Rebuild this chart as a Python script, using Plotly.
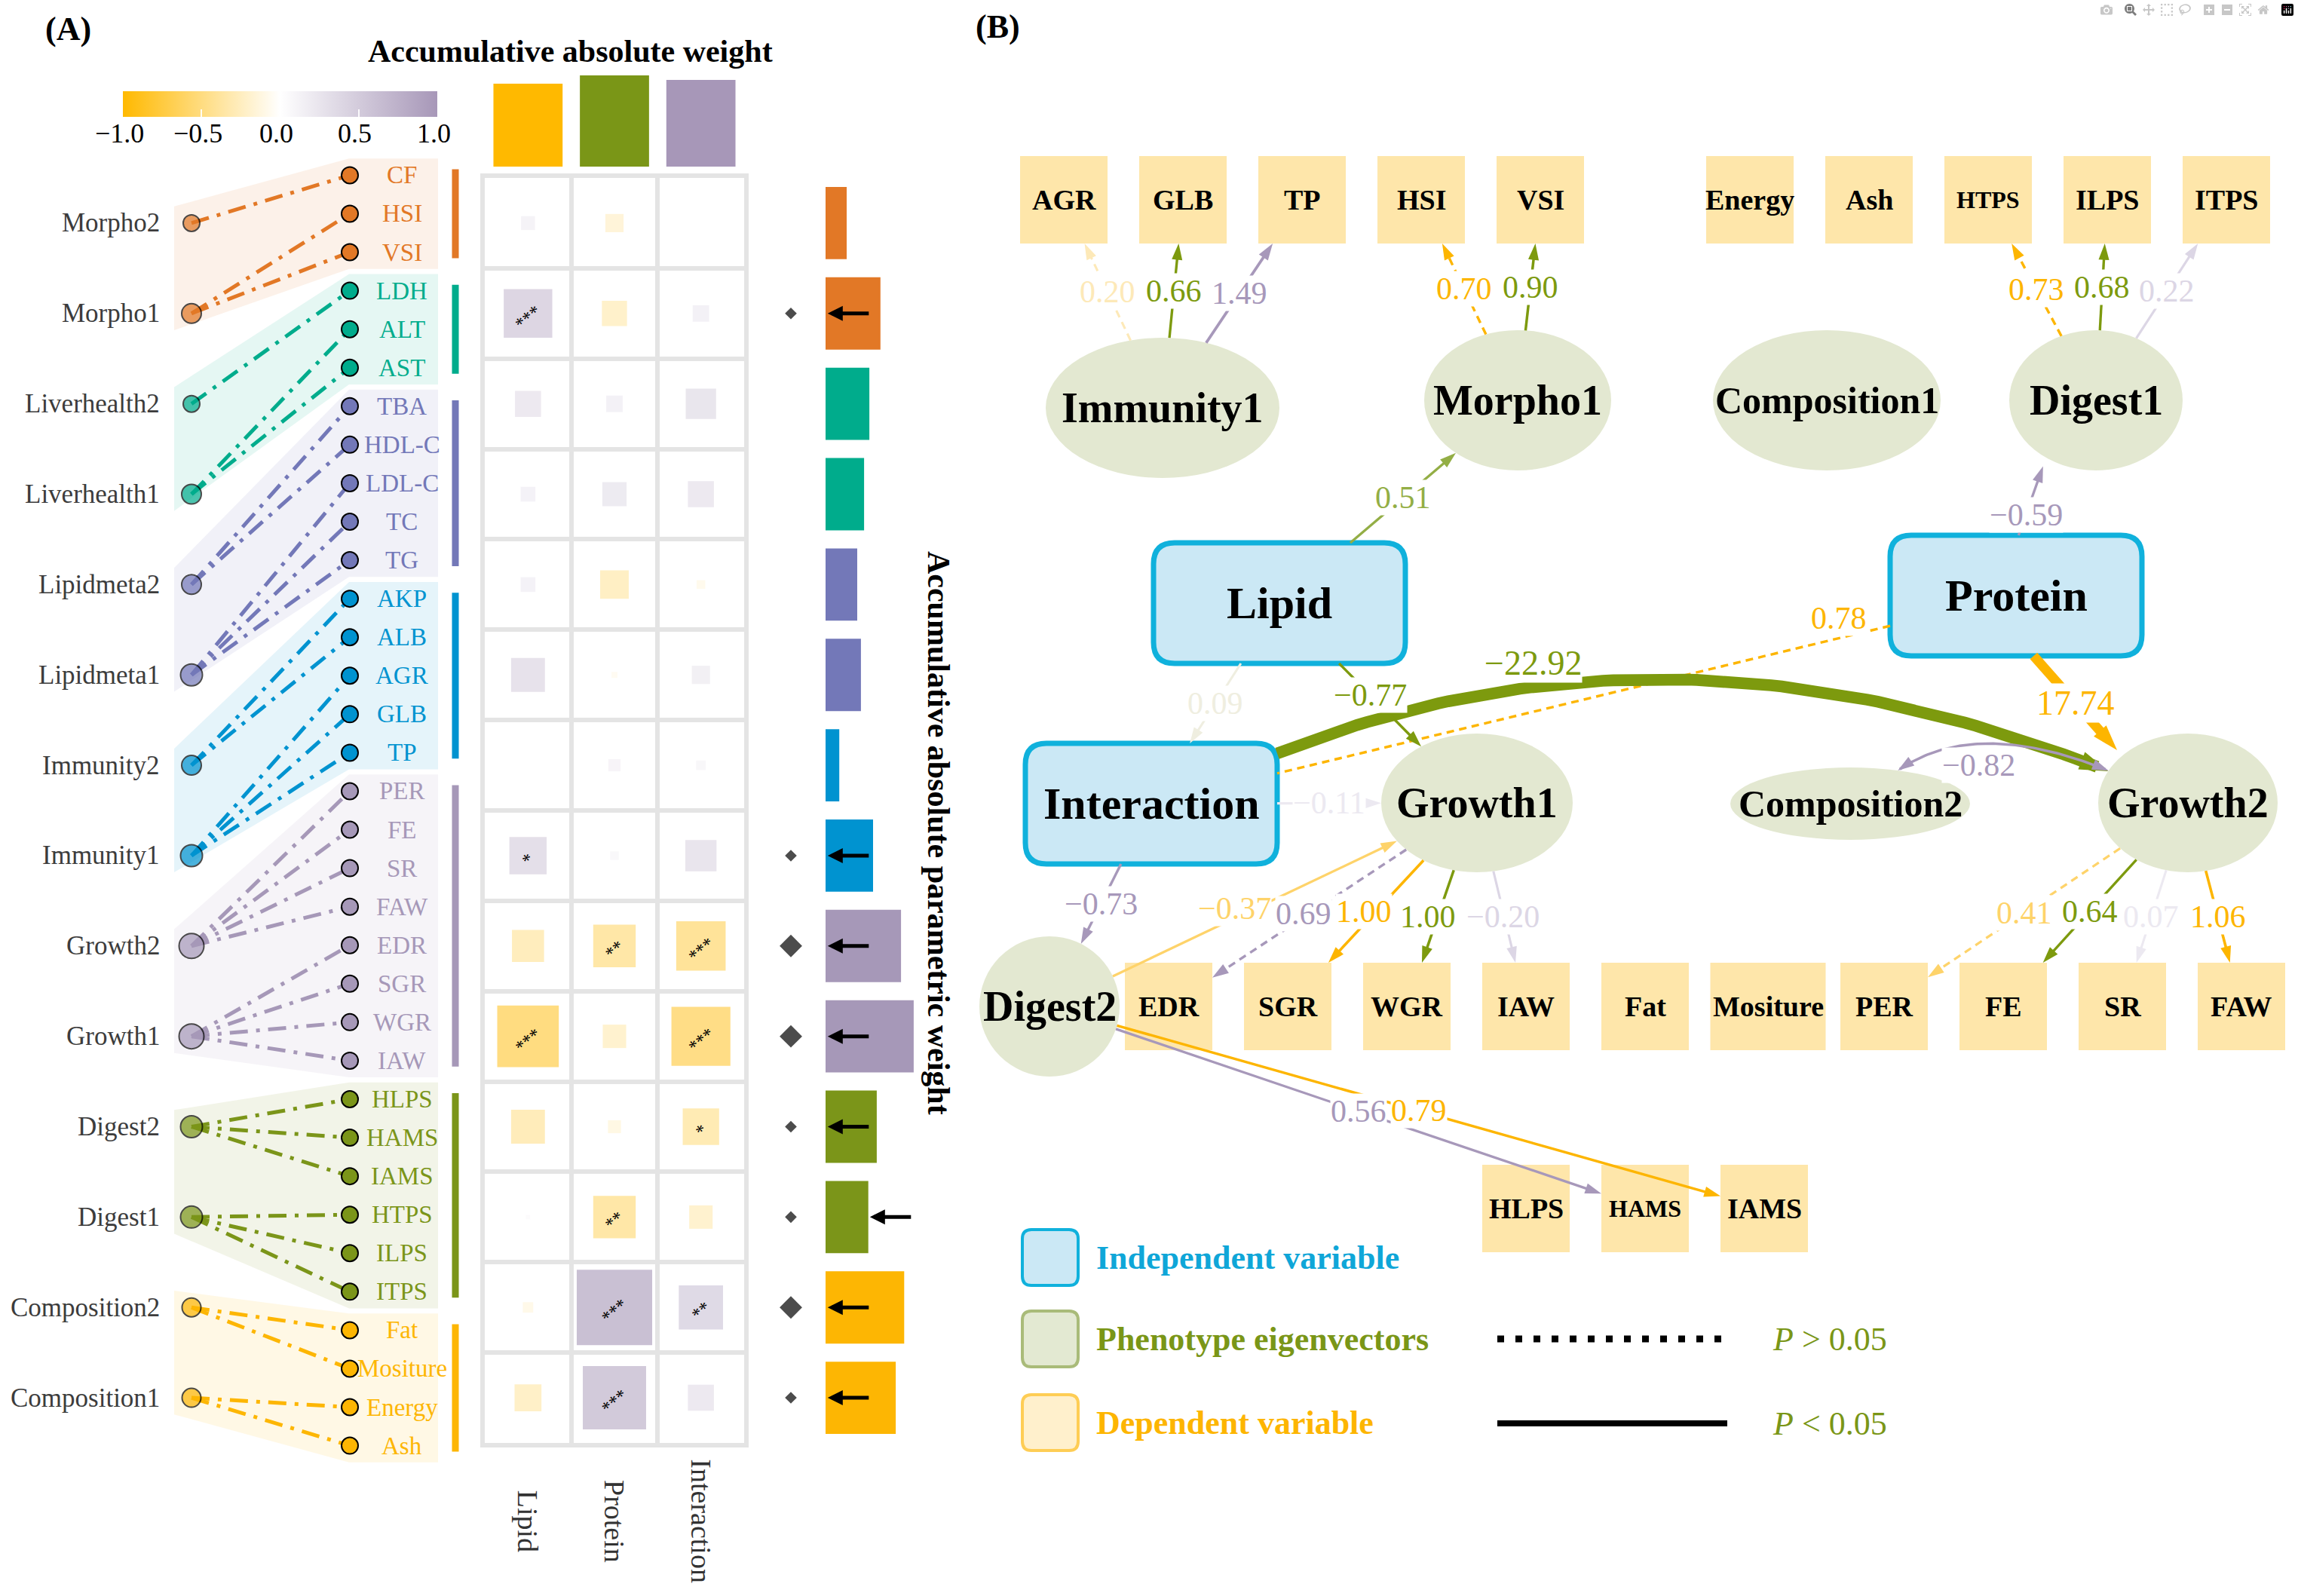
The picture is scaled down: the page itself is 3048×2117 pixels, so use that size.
import numpy as np
import plotly.graph_objects as go

W, H = 3048, 2117
SERIF = "Liberation Serif"

# ============================ DATA : panel A ============================
latents = ["Morpho2", "Morpho1", "Liverhealth2", "Liverhealth1", "Lipidmeta2",
           "Lipidmeta1", "Immunity2", "Immunity1", "Growth2", "Growth1",
           "Digest2", "Digest1", "Composition2", "Composition1"]
factors = ["Lipid", "Protein", "Interaction"]

w_lipid = [0.16, 0.56, 0.30, 0.17, 0.17, 0.39, 0.00, 0.43, -0.37, -0.71, -0.39, 0.05, -0.12, -0.31]
w_protein = [-0.21, -0.29, 0.19, 0.28, -0.33, -0.07, 0.14, 0.10, -0.49, -0.27, -0.15, -0.49, 0.87, 0.73]
w_interaction = [0.00, 0.19, 0.35, 0.30, -0.10, 0.21, 0.11, 0.36, -0.57, -0.68, -0.42, -0.27, 0.51, 0.30]

sig_lipid = ["", "***", "", "", "", "", "", "*", "", "***", "", "", "", ""]
sig_protein = ["", "", "", "", "", "", "", "", "**", "", "", "**", "***", "***"]
sig_interaction = ["", "", "", "", "", "", "", "", "***", "***", "*", "", "**", ""]

factor_weight = [4.19, 4.61, 4.38]
latent_weight = [0.40, 1.04, 0.83, 0.73, 0.60, 0.67, 0.26, 0.90, 1.43, 1.67, 0.97, 0.81, 1.49, 1.33]
latent_sig = [0, 1, 0, 0, 0, 0, 0, 1, 2, 2, 1, 1, 2, 1]
arrow_side = ["", "in", "", "", "", "", "", "in", "in", "in", "in", "out", "in", "in"]

cbar_ticks = [-1.0, -0.5, 0.0, 0.5, 1.0]
cbar_text = ["−1.0", "−0.5", "0.0", "0.5", "1.0"]

indicators = ["CF", "HSI", "VSI", "LDH", "ALT", "AST", "TBA", "HDL-C", "LDL-C", "TC", "TG",
              "AKP", "ALB", "AGR", "GLB", "TP", "PER", "FE", "SR", "FAW", "EDR", "SGR", "WGR",
              "IAW", "HLPS", "HAMS", "IAMS", "HTPS", "ILPS", "ITPS", "Fat", "Mositure",
              "Energy", "Ash"]
indicator_group = (["Morpho"] * 3 + ["Liverhealth"] * 3 + ["Lipidmeta"] * 5 + ["Immunity"] * 5
                   + ["Growth"] * 8 + ["Digest"] * 6 + ["Composition"] * 4)
latent_links = {
    "Morpho2": ["CF"], "Morpho1": ["HSI", "VSI"],
    "Liverhealth2": ["LDH"], "Liverhealth1": ["ALT", "AST"],
    "Lipidmeta2": ["TBA", "HDL-C"], "Lipidmeta1": ["LDL-C", "TC", "TG"],
    "Immunity2": ["AKP", "ALB"], "Immunity1": ["AGR", "GLB", "TP"],
    "Growth2": ["PER", "FE", "SR", "FAW"], "Growth1": ["EDR", "SGR", "WGR", "IAW"],
    "Digest2": ["HLPS", "HAMS", "IAMS"], "Digest1": ["HTPS", "ILPS", "ITPS"],
    "Composition2": ["Fat", "Mositure"], "Composition1": ["Energy", "Ash"],
}
groups = ["Morpho", "Liverhealth", "Lipidmeta", "Immunity", "Growth", "Digest", "Composition"]

# ============================ DATA : panel B ============================
path_from = ["Immunity1", "Immunity1", "Immunity1", "Morpho1", "Morpho1", "Digest1", "Digest1",
             "Digest1", "Lipid", "Protein", "Protein", "Protein", "Interaction", "Lipid", "Lipid",
             "Interaction", "Composition2", "Interaction", "Digest2", "Growth1", "Growth1",
             "Growth1", "Growth1", "Growth2", "Growth2", "Growth2", "Growth2", "Digest2", "Digest2"]
path_to = ["AGR", "GLB", "TP", "HSI", "VSI", "HTPS", "ILPS", "ITPS", "Morpho1", "Digest1",
           "Interaction", "Growth2", "Growth2", "Growth1", "Interaction", "Growth1", "Growth2",
           "Digest2", "Growth1", "EDR", "SGR", "WGR", "IAW", "PER", "FE", "SR", "FAW", "HAMS", "IAMS"]
path_coef = [0.20, 0.66, 1.49, 0.70, 0.90, 0.73, 0.68, 0.22, 0.51, -0.59, 0.78, 17.74, -22.92,
             -0.77, 0.09, -0.11, -0.82, -0.73, -0.37, 0.69, 1.00, 1.00, -0.20, 0.41, 0.64, 0.07,
             1.06, 0.56, 0.79]
path_nonsig = [True, False, False, True, False, True, False, False, False, False, True, False,
               False, False, False, False, False, False, False, True, False, False, False, True,
               False, False, False, False, False]

# ============================ STYLE / LAYOUT ============================
group_color = {"Morpho": "#e27826", "Liverhealth": "#00ac8c", "Lipidmeta": "#7378b8",
               "Immunity": "#0093d0", "Growth": "#a698b8", "Digest": "#7b9519",
               "Composition": "#fdb603"}
factor_color = ["#ffb900", "#7a9617", "#a797b8"]
CSCALE = [[0.0, "#ffb900"], [0.5, "#ffffff"], [1.0, "#a797b8"]]
GRID = "#e4e4e4"
CELL_PX = 115
lat_dot_size = [22, 26, 22, 26, 26, 29, 26, 29, 33, 33, 29, 29, 25, 25]

GOLD, LGOLD, FGOLD = "#fdb500", "#fed36a", "#fde9b8"
GREEN, LGREEN = "#7d9a0e", "#93ae45"
PURPLE, FPURPLE, FPURPLE2, FAINT = "#a798ba", "#dcd6e5", "#ece9f1", "#efeee0"
path_color = [FGOLD, GREEN, PURPLE, GOLD, GREEN, GOLD, GREEN, FPURPLE, LGREEN, PURPLE, GOLD,
              GOLD, GREEN, GREEN, FAINT, FPURPLE2, PURPLE, PURPLE, LGOLD, PURPLE, GOLD, GREEN,
              FPURPLE, LGOLD, GREEN, FPURPLE2, GOLD, PURPLE, GOLD]
edge_geo = {
    9: dict(sp=(0.02, -1.0), dp=(-0.61, 0.94), label_t=0.3),
    10: dict(arrow="none", label_t=0.084, label_off=(0, -27)),
    11: dict(sp=(0.14, 1.0), dp=(-0.79, -0.76)),
    12: dict(ctrl=(0, -274), label_t=0.32, label_off=(0, -32)),
    13: dict(label_t=0.45, label_off=(-8, -8)),
    16: dict(ctrl=(-58, -115), arrow="both", label_t=0.45, label_off=(0, 28)),
    18: dict(label_off=(-27, 0)),
    19: dict(label_off=(-8, 0)),
    20: dict(label_off=(-16, 0)),
    21: dict(label_off=(-13, 0)),
    22: dict(label_off=(-2, 0)),
}
LABEL_SIZE = 42

# node geometry of panel B: kind, cx, cy, half-width, half-height
nodes = {}
for nm, cx, cy in [("AGR", 1411, 265), ("GLB", 1569, 265), ("TP", 1727, 265), ("HSI", 1885, 265),
                   ("VSI", 2043, 265), ("Energy", 2321, 265), ("Ash", 2479, 265),
                   ("HTPS", 2637, 265), ("ILPS", 2795, 265), ("ITPS", 2953, 265),
                   ("EDR", 1550, 1335), ("SGR", 1708, 1335), ("WGR", 1866, 1335),
                   ("IAW", 2024, 1335), ("Fat", 2182, 1335), ("Mositure", 2345, 1335),
                   ("PER", 2499, 1335), ("FE", 2657, 1335), ("SR", 2815, 1335),
                   ("FAW", 2973, 1335), ("HLPS", 2024, 1603), ("HAMS", 2182, 1603),
                   ("IAMS", 2340, 1603)]:
    nodes[nm] = ("dep", cx, cy, 76.5 if nm == "Mositure" else 58, 58)
for nm, cx, cy, rx, ry in [("Immunity1", 1542, 541, 155, 93), ("Morpho1", 2013, 531, 124, 93),
                           ("Composition1", 2423, 531, 151, 93), ("Digest1", 2780, 531, 115, 93),
                           ("Growth1", 1959, 1065, 127, 92), ("Composition2", 2454, 1066, 159, 48),
                           ("Growth2", 2902, 1065, 119, 92), ("Digest2", 1392, 1335, 93, 93)]:
    nodes[nm] = ("ell", cx, cy, rx, ry)
for nm, cx, cy in [("Lipid", 1697, 800), ("Protein", 2674, 790), ("Interaction", 1527, 1066)]:
    nodes[nm] = ("ind", cx, cy, 167, 80)

# ---- pixel geometry of panel A ----
X3_L, X3_R = 643, 987
Y3_T, Y3_B = 236, 1914
ROW_PX = (Y3_B - Y3_T) / 14.0
y7_range = [13.5 + (H - Y3_B) / ROW_PX, -0.5 - Y3_T / ROW_PX]
X_LAT, X_LAT_LAB, X_IND, X_IND_LAB = 254, 214, 464, 533
X_POLY_L, X_SLANT, X_POLY_R, X_GBAR = 231, 463, 581, 604
PAD = 0.185
CB_X0, CB_X1, CB_TOP, CB_THICK = 163, 580, 121, 34


def rgba(hx, a):
    h = hx.lstrip("#")
    return "rgba(%d,%d,%d,%s)" % (int(h[0:2], 16), int(h[2:4], 16), int(h[4:6], 16), a)


def fmt(v):
    s = "%.2f" % abs(v)
    return "−" + s if v < 0 else s


fig = go.Figure()
ann = []
shapes = []

# ------------------------------ panel A : left diagram ------------------------------
ind_y = np.linspace(-0.53, 13.53, len(indicators))
lat_group = [n.rstrip("0123456789") for n in latents]
for g in groups:
    col = group_color[g]
    li = [i for i, gg in enumerate(lat_group) if gg == g]
    ii = [j for j, gg in enumerate(indicator_group) if gg == g]
    r0, r1 = li[0], li[-1]
    y0, y1 = ind_y[ii[0]], ind_y[ii[-1]]
    fig.add_trace(go.Scatter(
        x=[X_POLY_L, X_SLANT, X_POLY_R, X_POLY_R, X_SLANT, X_POLY_L],
        y=[r0 - PAD, y0 - PAD, y0 - PAD, y1 + PAD, y1 + PAD, r1 + PAD],
        fill="toself", fillcolor=rgba(col, 0.1), mode="lines", line=dict(width=0),
        xaxis="x", yaxis="y7", hoverinfo="skip"))
for g in groups:
    col = group_color[g]
    li = [i for i, gg in enumerate(lat_group) if gg == g]
    ii = [j for j, gg in enumerate(indicator_group) if gg == g]
    lx, ly = [], []
    for i in li:
        for nm in latent_links[latents[i]]:
            j = indicators.index(nm)
            lx += [X_LAT, X_IND, None]
            ly += [i, ind_y[j], None]
    fig.add_trace(go.Scatter(x=lx, y=ly, mode="lines", xaxis="x", yaxis="y7",
                             line=dict(color=col, width=5, dash="24px,11px,5px,11px"),
                             hoverinfo="skip"))
    fig.add_trace(go.Scatter(x=[X_GBAR, X_GBAR],
                             y=[ind_y[ii[0]] - 0.066, ind_y[ii[-1]] + 0.066],
                             mode="lines", line=dict(color=col, width=9), xaxis="x", yaxis="y7",
                             hoverinfo="skip"))
fig.add_trace(go.Scatter(
    x=[X_IND] * len(indicators), y=ind_y, mode="markers", xaxis="x", yaxis="y7",
    marker=dict(size=22, color=[group_color[g] for g in indicator_group],
                line=dict(color="black", width=2)), hoverinfo="skip"))
fig.add_trace(go.Scatter(
    x=[X_LAT] * len(latents), y=list(range(len(latents))), mode="markers", xaxis="x", yaxis="y7",
    marker=dict(size=lat_dot_size, color=[group_color[g] for g in lat_group],
                line=dict(color="black", width=2)), hoverinfo="skip"))
for j, nm in enumerate(indicators):
    ann.append(dict(x=X_IND_LAB, y=ind_y[j], xref="x", yref="y7", text=nm, showarrow=False,
                    xanchor="center", yanchor="middle",
                    font=dict(family=SERIF, size=33, color=group_color[indicator_group[j]])))
for i, nm in enumerate(latents):
    ann.append(dict(x=X_LAT_LAB, y=i, xref="x", yref="y7", text=nm, showarrow=False,
                    xanchor="right", yanchor="middle",
                    font=dict(family=SERIF, size=35, color="#3c3c3c")))

# ------------------------------ panel A : heat cells ------------------------------
w_cols = [w_lipid, w_protein, w_interaction]
s_cols = [sig_lipid, sig_protein, sig_interaction]
hx, hy, hw = [], [], []
for c, colv in enumerate(w_cols):
    for r, v in enumerate(colv):
        hx.append(c)
        hy.append(r)
        hw.append(v)
fig.add_trace(go.Scatter(
    x=hx, y=hy, xaxis="x3", yaxis="y3", mode="markers", hoverinfo="skip",
    marker=dict(symbol="square", size=[abs(v) * CELL_PX for v in hw], color=hw,
                colorscale=CSCALE, cmin=-1, cmax=1, line=dict(width=0), showscale=True,
                colorbar=dict(orientation="h", x=(CB_X0 + CB_X1) / 2 / W, xanchor="center",
                              y=1 - CB_TOP / H, yanchor="top", len=(CB_X1 - CB_X0) / W,
                              lenmode="fraction", thickness=CB_THICK, thicknessmode="pixels",
                              outlinewidth=0, tickmode="array", tickvals=cbar_ticks,
                              showticklabels=False, ticks="inside", ticklen=10,
                              tickcolor="rgba(255,255,255,0.9)", tickwidth=2,
                              xpad=0, ypad=0))))
for v, t in zip(cbar_ticks, cbar_text):
    ann.append(dict(x=(CB_X0 - 5 + (v + 1) / 2 * (CB_X1 - CB_X0)) / W, y=1 - 177 / H,
                    xref="paper", yref="paper", text=t, showarrow=False, xanchor="center",
                    yanchor="middle", font=dict(family=SERIF, size=36, color="black")))
for c, sc in enumerate(s_cols):
    for r, s in enumerate(sc):
        if s:
            ann.append(dict(x=c, y=r, xref="x3", yref="y3", text=s, showarrow=False,
                            textangle=-40, yshift=-5,
                            font=dict(family=SERIF, size=24, color="black")))
for c, nm in enumerate(factors):
    ann.append(dict(x=c, y=1 - 2018 / H, xref="x3", yref="paper", text=nm, showarrow=False,
                    textangle=90, xanchor="center", yanchor="middle",
                    font=dict(family=SERIF, size=38, color="#333333")))

# top bars
fig.add_trace(go.Bar(x=[0, 1, 2], y=factor_weight, xaxis="x2", yaxis="y2", width=0.8,
                     marker=dict(color=factor_color, line=dict(width=0)), hoverinfo="skip"))

# right bars
fig.add_trace(go.Bar(x=latent_weight, y=list(range(len(latents))), orientation="h",
                     xaxis="x4", yaxis="y4", width=0.8,
                     marker=dict(color=[group_color[g] for g in lat_group], line=dict(width=0)),
                     hoverinfo="skip"))
dr = [i for i, s in enumerate(latent_sig) if s > 0]
fig.add_trace(go.Scatter(x=[0] * len(dr), y=dr, xaxis="x5", yaxis="y4", mode="markers",
                         marker=dict(symbol="diamond", color="black",
                                     size=[12 if latent_sig[i] == 1 else 23 for i in dr],
                                     line=dict(width=0)), hoverinfo="skip"))
for i, side in enumerate(arrow_side):
    if not side:
        continue
    head = 0.04 if side == "in" else latent_weight[i] + 0.03
    ann.append(dict(x=head, y=i, ax=head + 0.8, ay=i, xref="x4", yref="y4", axref="x4",
                    ayref="y4", text="", showarrow=True, arrowhead=2, arrowsize=0.8,
                    arrowwidth=5, arrowcolor="black", standoff=0))

ann.append(dict(x=90 / W, y=1 - 38 / H, xref="paper", yref="paper", text="<b>(A)</b>",
                xanchor="center", yanchor="middle",
                showarrow=False, font=dict(family=SERIF, size=44, color="black")))
ann.append(dict(x=756 / W, y=1 - 68 / H, xref="paper", yref="paper",
                xanchor="center", yanchor="middle",
                text="<b>Accumulative absolute weight</b>", showarrow=False,
                font=dict(family=SERIF, size=42, color="black")))
ann.append(dict(x=1245 / W, y=1 - 1105 / H, xref="paper", yref="paper",
                xanchor="center", yanchor="middle",
                text="<b>Accumulative absolute parametric weight</b>", showarrow=False,
                textangle=90, font=dict(family=SERIF, size=42, color="black")))

# ------------------------------ panel B ------------------------------


def rrect(x0, y0, x1, y1, r):
    return ("M%g,%g L%g,%g Q%g,%g %g,%g L%g,%g Q%g,%g %g,%g L%g,%g Q%g,%g %g,%g L%g,%g "
            "Q%g,%g %g,%g Z" % (x0 + r, y0, x1 - r, y0, x1, y0, x1, y0 + r, x1, y1 - r,
                                x1, y1, x1 - r, y1, x0 + r, y1, x0, y1, x0, y1 - r,
                                x0, y0 + r, x0, y0, x0 + r, y0))


for nm, (kind, cx, cy, hw_, hh_) in nodes.items():
    if kind == "dep":
        shapes.append(dict(type="rect", xref="x", yref="y", x0=cx - hw_, x1=cx + hw_,
                           y0=cy - hh_, y1=cy + hh_, fillcolor="#fee6aa",
                           line=dict(width=0), layer="below"))
        ann.append(dict(x=cx, y=cy, xref="x", yref="y", text="<b>%s</b>" % nm, showarrow=False,
                        font=dict(family=SERIF, size=32 if nm in ("HTPS", "HAMS") else 38,
                                  color="black")))
    elif kind == "ell":
        shapes.append(dict(type="circle", xref="x", yref="y", x0=cx - hw_, x1=cx + hw_,
                           y0=cy - hh_, y1=cy + hh_, fillcolor="#e3e8d1",
                           line=dict(width=0), layer="below"))
        ann.append(dict(x=cx, y=cy, xref="x", yref="y", text="<b>%s</b>" % nm, showarrow=False,
                        font=dict(family=SERIF, size=50 if nm.startswith("Comp") else 56,
                                  color="black")))
    else:
        shapes.append(dict(type="path", xref="x", yref="y",
                           path=rrect(cx - hw_, cy - hh_, cx + hw_, cy + hh_, 28),
                           fillcolor="#cbe8f5", line=dict(color="#10b1dc", width=7),
                           layer="below"))
        ann.append(dict(x=cx, y=cy, xref="x", yref="y", text="<b>%s</b>" % nm, showarrow=False,
                        font=dict(family=SERIF, size=60, color="black")))


def center(nm):
    return nodes[nm][1], nodes[nm][2]


def boundary(nm, tx, ty):
    kind, cx, cy, hw_, hh_ = nodes[nm]
    dx, dy = tx - cx, ty - cy
    if kind == "ell":
        k = 1.0 / np.sqrt((dx / hw_) ** 2 + (dy / hh_) ** 2)
    else:
        k = min(hw_ / abs(dx) if dx else 1e9, hh_ / abs(dy) if dy else 1e9)
    return cx + k * dx, cy + k * dy


def port(nm, f):
    kind, cx, cy, hw_, hh_ = nodes[nm]
    return cx + f[0] * hw_, cy + f[1] * hh_


def arrow_angle(p_from, p_to):
    return float(np.degrees(np.arctan2(p_to[0] - p_from[0], -(p_to[1] - p_from[1]))))


label_ann = []
for k in range(len(path_coef)):
    s, d = path_from[k], path_to[k]
    geo = edge_geo.get(k, {})
    col = path_color[k]
    lw = 3 + 0.55 * abs(path_coef[k])
    asz = 18 + 1.4 * lw
    dash = "10px,7px" if path_nonsig[k] else "solid"
    mode_arrow = geo.get("arrow", "end")
    if "ctrl" in geo:
        sc, dc = center(s), center(d)
        C = ((sc[0] + dc[0]) / 2 + geo["ctrl"][0], (sc[1] + dc[1]) / 2 + geo["ctrl"][1])
        p0 = boundary(s, *C)
        p1 = boundary(d, *C)
        t = np.linspace(0, 1, 80)
        xs = (1 - t) ** 2 * p0[0] + 2 * t * (1 - t) * C[0] + t ** 2 * p1[0]
        ys = (1 - t) ** 2 * p0[1] + 2 * t * (1 - t) * C[1] + t ** 2 * p1[1]
    else:
        tgt = port(d, geo["dp"]) if "dp" in geo else center(d)
        p0 = port(s, geo["sp"]) if "sp" in geo else boundary(s, *tgt)
        p1 = port(d, geo["dp"]) if "dp" in geo else boundary(d, *(p0 if "sp" in geo else center(s)))
        xs = np.array([p0[0], p1[0]])
        ys = np.array([p0[1], p1[1]])
    lx, ly = xs.copy(), ys.copy()
    back = 0.6 * 0.95 * asz
    if mode_arrow in ("end", "both"):
        vx, vy = lx[-1] - lx[-2], ly[-1] - ly[-2]
        n = np.hypot(vx, vy)
        lx[-1] -= vx / n * back
        ly[-1] -= vy / n * back
    if mode_arrow == "both":
        vx, vy = lx[0] - lx[1], ly[0] - ly[1]
        n = np.hypot(vx, vy)
        lx[0] -= vx / n * back
        ly[0] -= vy / n * back
    fig.add_trace(go.Scatter(x=lx, y=ly, mode="lines", xaxis="x", yaxis="y",
                             line=dict(color=col, width=lw, dash=dash), hoverinfo="skip"))
    heads = []
    if mode_arrow in ("end", "both"):
        heads.append(((xs[-2], ys[-2]), (xs[-1], ys[-1])))
    if mode_arrow == "both":
        heads.append(((xs[1], ys[1]), (xs[0], ys[0])))
    for pf, pt in heads:
        fig.add_trace(go.Scatter(x=[pt[0]], y=[pt[1]], mode="markers", xaxis="x", yaxis="y",
                                 marker=dict(symbol="arrow", size=asz, color=col,
                                             angle=arrow_angle(pf, pt), line=dict(width=0)),
                                 hoverinfo="skip"))
    tl = geo.get("label_t", 0.5)
    if "ctrl" in geo:
        lxp = (1 - tl) ** 2 * p0[0] + 2 * tl * (1 - tl) * C[0] + tl ** 2 * p1[0]
        lyp = (1 - tl) ** 2 * p0[1] + 2 * tl * (1 - tl) * C[1] + tl ** 2 * p1[1]
    else:
        lxp = p0[0] + tl * (p1[0] - p0[0])
        lyp = p0[1] + tl * (p1[1] - p0[1])
    off = geo.get("label_off", (0, 0))
    big = abs(path_coef[k]) > 10
    label_ann.append(dict(x=lxp + off[0], y=lyp + off[1], xref="x", yref="y",
                          text=fmt(path_coef[k]), showarrow=False, bgcolor="white",
                          borderpad=0,
                          font=dict(family=SERIF, size=LABEL_SIZE + (4 if big else 0),
                                    color=col)))
ann = label_ann + ann

# legend of panel B
leg = [("Independent variable", "#cbe8f5", "#10b1dc", "#0fa6d8", 1668),
       ("Phenotype eigenvectors", "#e3e9d2", "#a9bb79", "#7a9617", 1776),
       ("Dependent variable", "#fff0cc", "#fecd55", "#fdb500", 1887)]
for txt, fc, lc, tc, yc in leg:
    shapes.append(dict(type="path", xref="x", yref="y",
                       path=rrect(1356, yc - 37, 1430, yc + 37, 12), fillcolor=fc,
                       line=dict(color=lc, width=4), layer="below"))
    ann.append(dict(x=1452, y=yc, xref="x", yref="y", text="<b>%s</b>" % txt, showarrow=False,
                    xanchor="left", font=dict(family=SERIF, size=44, color=tc)))
fig.add_trace(go.Scatter(x=[1986, 2291], y=[1776, 1776], mode="lines", xaxis="x", yaxis="y",
                         line=dict(color="black", width=9, dash="9px,15px"), hoverinfo="skip"))
fig.add_trace(go.Scatter(x=[1986, 2291], y=[1888, 1888], mode="lines", xaxis="x", yaxis="y",
                         line=dict(color="black", width=8), hoverinfo="skip"))
ann.append(dict(x=2349, y=1776, xref="x", yref="y", text="<i>P</i> &gt; 0.05", showarrow=False,
                xanchor="left", font=dict(family=SERIF, size=44, color="#7a9617")))
ann.append(dict(x=2349, y=1888, xref="x", yref="y", text="<i>P</i> &lt; 0.05", showarrow=False,
                xanchor="left", font=dict(family=SERIF, size=44, color="#7a9617")))
ann.append(dict(x=1323 / W, y=1 - 36 / H, xref="paper", yref="paper", text="<b>(B)</b>",
                xanchor="center", yanchor="middle",
                showarrow=False, font=dict(family=SERIF, size=44, color="black")))

# ------------------------------ layout ------------------------------
xd_grid = [X3_L / W, X3_R / W]
yd_grid = [1 - Y3_B / H, 1 - Y3_T / H]
fig.update_layout(
    width=W, height=H, margin=dict(l=0, r=0, t=0, b=0), autosize=False,
    paper_bgcolor="white", plot_bgcolor="rgba(0,0,0,0)", showlegend=False,
    xaxis=dict(domain=[0, 1], range=[0, W], visible=False),
    yaxis=dict(domain=[0, 1], range=[H, 0], visible=False),
    yaxis7=dict(overlaying="y", anchor="x", range=y7_range, visible=False),
    xaxis2=dict(domain=xd_grid, range=[-0.5, 2.5], anchor="y2", visible=False),
    yaxis2=dict(domain=[1 - 221 / H, 1 - 100 / H], range=[0, max(factor_weight)], anchor="x2",
                visible=False),
    xaxis3=dict(domain=xd_grid, range=[-0.5, 2.5], anchor="y3", showgrid=True, gridcolor=GRID,
                gridwidth=6, tickmode="array", tickvals=[0.5, 1.5], showticklabels=False,
                ticks="", zeroline=False, showline=True, mirror=True, linecolor=GRID,
                linewidth=6),
    yaxis3=dict(domain=yd_grid, range=[13.5, -0.5], anchor="x3", showgrid=True, gridcolor=GRID,
                gridwidth=6, tickmode="array", tickvals=[i + 0.5 for i in range(13)],
                showticklabels=False, ticks="", zeroline=False, showline=True, mirror=True,
                linecolor=GRID, linewidth=6),
    xaxis4=dict(domain=[1095 / W, 1235 / W], range=[0, 2], anchor="y4", visible=False),
    yaxis4=dict(domain=yd_grid, range=[13.5, -0.5], anchor="x4", visible=False),
    xaxis5=dict(domain=[1029 / W, 1069 / W], range=[-1, 1], anchor="y4", visible=False),
    annotations=ann, shapes=shapes,
)

fig.write_html("out.html", post_script="document.body.style.margin='0';")
